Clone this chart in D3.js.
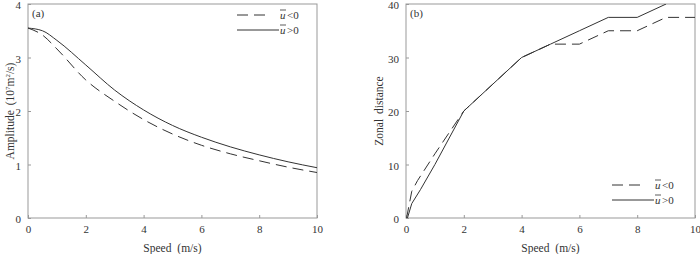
<!DOCTYPE html>
<html>
<head>
<meta charset="utf-8">
<script src="https://cdn.jsdelivr.net/npm/d3@7"></script>
<style>
  body { margin: 0; background: #fff; }
  text { font-family: "Liberation Serif", "DejaVu Serif", serif; fill: #333; }
</style>
</head>
<body>
<div id="chart-area"></div>
<script>
// panel (a) amplitude vs speed
var speedA = [0, 0.5, 1, 2, 3, 4, 5, 6, 7, 8, 9, 10];
var ampPos = [3.55, 3.5, 3.32, 2.86, 2.39, 2.02, 1.73, 1.51, 1.33, 1.18, 1.05, 0.94];
var ampNeg = [3.55, 3.42, 3.16, 2.58, 2.18, 1.84, 1.57, 1.36, 1.2, 1.07, 0.95, 0.85];

// panel (b) zonal distance vs speed
var speedBPos = [0.05, 0.2, 0.5, 1, 2, 3, 4, 5, 6, 7, 8, 9];
var distPos = [0, 2.7, 5.3, 10, 20, 25, 30, 32.5, 35, 37.5, 37.5, 40];
var speedBNeg = [0.02, 0.2, 0.4, 1, 2, 3, 4, 5, 6, 7, 8, 9, 10];
var distNeg = [0, 5, 7, 12, 20, 25, 30, 32.5, 32.5, 35, 35, 37.5, 37.5];

var xTicks = [0, 2, 4, 6, 8, 10];
var ampTicks = [0, 1, 2, 3, 4];
var distTicks = [0, 10, 20, 30, 40];

var def = {
    width: 700,
    height: 254,
    top: 4,
    bottom: 218,
    axisColor: '#999',
    lineColor: '#333',
    dash: '11,6'
};

var svg = d3.select('#chart-area').append('svg')
    .attr('width', def.width)
    .attr('height', def.height);

function zip(xs, ys) {
    return xs.map((v, i) => [v, ys[i]]);
}

function panel(opt) {
    var x = d3.scaleLinear().domain([0, 10]).range([opt.left, opt.right]);
    var y = d3.scaleLinear().domain(opt.yDomain).range([def.bottom, def.top]);

    var g = svg.append('g');

    // clip so lines stop at the frame
    var clipId = 'clip-' + opt.name;
    svg.append('clipPath').attr('id', clipId)
        .append('rect')
        .attr('x', opt.left).attr('y', def.top)
        .attr('width', opt.right - opt.left).attr('height', def.bottom - def.top);

    var xAx = d3.axisBottom(x).tickValues(xTicks).tickFormat(d3.format('d'))
        .tickSizeInner(-3).tickSizeOuter(0).tickPadding(7);
    var yAx = d3.axisLeft(y).tickValues(opt.yTicks).tickFormat(d3.format('d'))
        .tickSizeInner(-3).tickSizeOuter(0).tickPadding(7);

    var xg = g.append('g').attr('transform', 'translate(0,' + def.bottom + ')').call(xAx);
    var yg = g.append('g').attr('transform', 'translate(' + opt.left + ',0)').call(yAx);
    [xg, yg].forEach(a => {
        a.select('.domain').remove();
        a.selectAll('line').attr('stroke', def.axisColor);
        a.selectAll('text').attr('font-size', '11px').attr('fill', '#333')
            .style('font-family', '"Liberation Serif", serif');
    });
    yg.selectAll('text').attr('dy', '0.42em');

    // frame
    g.append('rect')
        .attr('x', opt.left).attr('y', def.top)
        .attr('width', opt.right - opt.left).attr('height', def.bottom - def.top)
        .attr('fill', 'none').attr('stroke', def.axisColor).attr('stroke-width', 1);

    var line = d3.line()
        .x(d => x(d[0]))
        .y(d => y(d[1]))
        .curve(opt.curve);

    var lines = g.append('g').attr('clip-path', 'url(#' + clipId + ')');
    lines.append('path').datum(opt.neg)
        .attr('d', line).attr('fill', 'none')
        .attr('stroke', def.lineColor).attr('stroke-width', 1)
        .attr('stroke-dasharray', def.dash);
    lines.append('path').datum(opt.pos)
        .attr('d', line).attr('fill', 'none')
        .attr('stroke', def.lineColor).attr('stroke-width', 1);

    // labels
    g.append('text')
        .attr('x', opt.left + 4).attr('y', 17)
        .attr('font-size', '11px')
        .text(opt.tag);

    g.append('text')
        .attr('x', (opt.left + opt.right) / 2).attr('y', 252)
        .attr('text-anchor', 'middle')
        .attr('font-size', '11.5px')
        .attr('word-spacing', '3px')
        .text('Speed (m/s)');

    var yl = g.append('text')
        .attr('transform', 'translate(' + opt.yLabelX + ',' + ((def.top + def.bottom) / 2) + ') rotate(-90)')
        .attr('text-anchor', 'middle')
        .attr('font-size', '11.5px')
        .attr('word-spacing', '2px');
    opt.yLabel(yl);

    // legend
    var lg = g.append('g');
    var items = [
        {dash: def.dash, sign: '<0', y: opt.legY},
        {dash: null, sign: '>0', y: opt.legY + 15}
    ];
    items.forEach(it => {
        lg.append('line')
            .attr('x1', opt.legX).attr('x2', it.dash ? opt.legX + 32 : opt.legX + 42)
            .attr('y1', it.y).attr('y2', it.y)
            .attr('stroke', def.lineColor).attr('stroke-width', 1)
            .attr('stroke-dasharray', it.dash);
        var ux = opt.legX + 43;
        lg.append('text')
            .attr('x', ux).attr('y', it.y + 4)
            .attr('font-size', '11px').attr('font-style', 'italic')
            .text('u');
        // bar over the u
        lg.append('line')
            .attr('x1', ux).attr('x2', ux + 6)
            .attr('y1', it.y - 5).attr('y2', it.y - 5)
            .attr('stroke', '#333').attr('stroke-width', 0.8);
        lg.append('text')
            .attr('x', ux + 7).attr('y', it.y + 4)
            .attr('font-size', '11px')
            .text(it.sign);
    });
}

panel({
    name: 'a',
    tag: '(a)',
    left: 28, right: 317,
    yDomain: [0, 4], yTicks: ampTicks,
    curve: d3.curveMonotoneX,
    pos: zip(speedA, ampPos),
    neg: zip(speedA, ampNeg),
    yLabelX: 14,
    yLabel: t => {
        t.append('tspan').text('Amplitude (10');
        t.append('tspan').attr('font-size', '7px').attr('dy', -4).text('7');
        t.append('tspan').attr('dy', 4).text('m');
        t.append('tspan').attr('font-size', '7px').attr('dy', -4).text('2');
        t.append('tspan').attr('dy', 4).text('/s)');
    },
    legX: 237, legY: 15
});

panel({
    name: 'b',
    tag: '(b)',
    left: 406, right: 695,
    yDomain: [0, 40], yTicks: distTicks,
    curve: d3.curveLinear,
    pos: zip(speedBPos, distPos),
    neg: zip(speedBNeg, distNeg),
    yLabelX: 383,
    yLabel: t => t.text('Zonal distance'),
    legX: 612, legY: 185
});
</script>
</body>
</html>
